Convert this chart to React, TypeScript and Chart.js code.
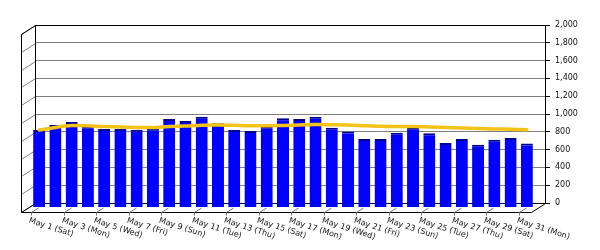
import React, { useEffect, useRef } from "react";
import { Chart, registerables } from "chart.js";

Chart.register(...registerables);

const categories = [
  "May 1 (Sat)", "May 2 (Sun)", "May 3 (Mon)", "May 4 (Tue)", "May 5 (Wed)",
  "May 6 (Thu)", "May 7 (Fri)", "May 8 (Sat)", "May 9 (Sun)", "May 10 (Mon)",
  "May 11 (Tue)", "May 12 (Wed)", "May 13 (Thu)", "May 14 (Fri)", "May 15 (Sat)",
  "May 16 (Sun)", "May 17 (Mon)", "May 18 (Tue)", "May 19 (Wed)", "May 20 (Thu)",
  "May 21 (Fri)", "May 22 (Sat)", "May 23 (Sun)", "May 24 (Mon)", "May 25 (Tue)",
  "May 26 (Wed)", "May 27 (Thu)", "May 28 (Fri)", "May 29 (Sat)", "May 30 (Sun)",
  "May 31 (Mon)",
];

const dailyValues = [
  871, 927, 961, 908, 883, 883, 875, 886, 994, 972,
  1020, 946, 871, 860, 908, 1002, 994, 1020, 897, 853,
  771, 771, 841, 897, 834, 726, 771, 704, 760, 782,
  718,
];

const averageValues = [
  870, 900, 920, 918, 910, 905, 900, 898, 910, 915,
  925, 927, 923, 918, 918, 922, 927, 932, 930, 927,
  919, 912, 909, 909, 905, 899, 894, 887, 883, 880,
  874,
];

const yMin = 0;
const yMax = 2000;
const yStep = 200;

const DEPTH_X = -14;
const DEPTH_Y = 9;
const FONT = '8px "DejaVu Sans"';

function barPlane(chart: any) {
  const ca = chart.chartArea;
  const w = ca.right - ca.left;
  const k = (w - 6) / w;
  const a = ca.left + DEPTH_X / 2 + 3 - k * ca.left;
  return { k, a, dy: DEPTH_Y / 2 };
}

const frame3d = {
  id: "frame3d",
  beforeDatasetsDraw(chart: any) {
    const { ctx, chartArea: ca, scales } = chart;
    const y = scales.y;
    const L = Math.round(ca.left) + 0.5;
    const R = Math.round(ca.right) + 0.5;
    const T = Math.round(ca.top) + 0.5;
    const B = Math.round(ca.bottom) + 0.5;
    ctx.save();
    ctx.lineWidth = 1;
    ctx.strokeStyle = "#808080";
    y.ticks.forEach((t: any) => {
      const py = Math.round(y.getPixelForValue(t.value)) + 0.5;
      ctx.beginPath();
      ctx.moveTo(L, py);
      ctx.lineTo(L + DEPTH_X, py + DEPTH_Y);
      ctx.stroke();
    });
    ctx.strokeStyle = "#000";
    ctx.beginPath();
    ctx.moveTo(L, T);
    ctx.lineTo(L, B);
    ctx.moveTo(L, T);
    ctx.lineTo(L + DEPTH_X, T + DEPTH_Y);
    ctx.lineTo(L + DEPTH_X, B + DEPTH_Y);
    ctx.lineTo(R + DEPTH_X, B + DEPTH_Y);
    ctx.lineTo(R, B);
    ctx.moveTo(L, B);
    ctx.lineTo(L + DEPTH_X, B + DEPTH_Y);
    ctx.stroke();
    ctx.restore();

    const { k, a, dy } = barPlane(chart);
    ctx.save();
    ctx.translate(a, dy);
    ctx.scale(k, 1);
  },
  afterDatasetsDraw(chart: any) {
    chart.ctx.restore();
  },
  afterDraw(chart: any) {
    const { ctx, chartArea: ca, scales } = chart;
    const xs = scales.x;
    const { k, a } = barPlane(chart);
    const front = Math.round(ca.bottom) + DEPTH_Y + 0.5;
    ctx.save();
    ctx.font = FONT;
    ctx.fillStyle = "#111";
    ctx.textAlign = "left";
    ctx.textBaseline = "top";
    ctx.strokeStyle = "#777";
    ctx.lineWidth = 1;
    categories.forEach((label, i) => {
      if (i % 2 !== 0) return;
      const cx = a + k * xs.getPixelForValue(i);
      const fx = Math.round(cx + DEPTH_X / 2 - 1) + 0.5;
      ctx.beginPath();
      ctx.moveTo(fx, front);
      ctx.lineTo(fx - DEPTH_X / 2, front - DEPTH_Y / 2);
      ctx.moveTo(fx, front);
      ctx.lineTo(fx, front + 3);
      ctx.stroke();
      ctx.save();
      ctx.translate(fx - 1, front + 4);
      ctx.rotate((18 * Math.PI) / 180);
      ctx.fillText(label, 0, 0);
      ctx.restore();
    });
    ctx.restore();
  },
};

export default function App() {
  const canvasRef = useRef<HTMLCanvasElement | null>(null);

  useEffect(() => {
    const canvas = canvasRef.current;
    if (!canvas) return;
    const chart = new Chart(canvas, {
      data: {
        labels: categories,
        datasets: [
          {
            type: "line",
            data: averageValues,
            borderColor: "#F3C31A",
            borderWidth: 3.5,
            pointRadius: 0,
            tension: 0.3,
            order: 0,
            borderCapStyle: "round",
          },
          {
            type: "bar",
            data: dailyValues,
            backgroundColor: "#0000FF",
            borderColor: "#000090",
            borderWidth: { top: 2, left: 0, right: 0, bottom: 0 },
            barPercentage: 0.74,
            categoryPercentage: 1,
            order: 1,
          },
        ],
      } as any,
      options: {
        responsive: false,
        animation: false,
        devicePixelRatio: 1,
        layout: { padding: { top: 25, left: 35, bottom: 47, right: 0 } },
        plugins: { legend: { display: false }, tooltip: { enabled: false } },
        scales: {
          x: { display: false, offset: true },
          y: {
            position: "right",
            min: yMin,
            max: yMax,
            afterFit: (scale: any) => {
              scale.width = 55;
            },
            ticks: {
              stepSize: yStep,
              color: "#111",
              padding: 5,
              font: { family: "DejaVu Sans", size: 8 },
              callback: (v: any) => Number(v).toLocaleString("en-US"),
            },
            grid: {
              color: (c: any) =>
                c.tick && (c.tick.value === yMin || c.tick.value === yMax) ? "#000" : "#808080",
              tickColor: "#000",
              tickLength: 5,
            },
            border: { display: true, color: "#000" },
          },
        },
      } as any,
      plugins: [frame3d],
    });
    return () => chart.destroy();
  }, []);

  return (
    <div style={{ position: "fixed", left: 0, top: 0, width: 600, height: 250, background: "#fff" }}>
      <canvas ref={canvasRef} width={600} height={250} style={{ width: 600, height: 250 }} />
    </div>
  );
}
